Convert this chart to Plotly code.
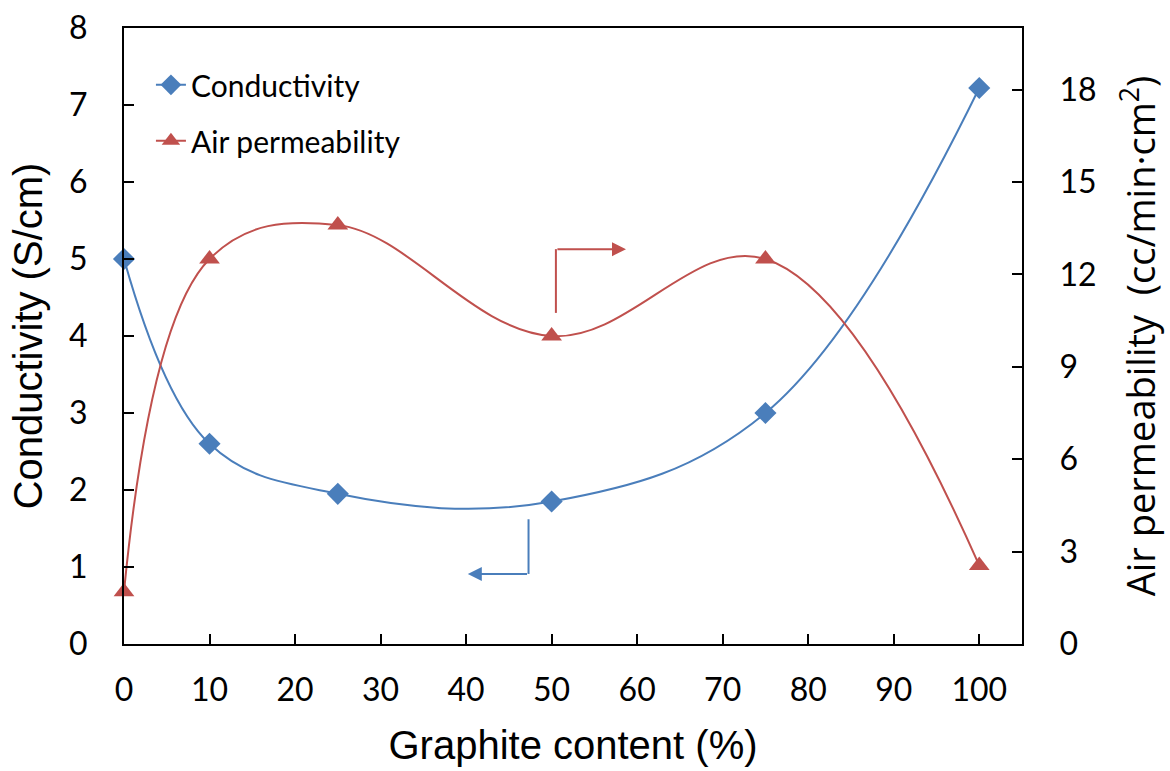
import plotly.graph_objects as go

# Graphite content (%) and measured properties
graphite = [0, 10, 25, 50, 75, 100]
conductivity = [5.0, 2.6, 1.95, 1.85, 3.0, 7.22]        # S/cm
air_permeability = [1.7, 12.5, 13.6, 10.0, 12.5, 2.55]  # cc/min·cm²

x_ticks = [0, 10, 20, 30, 40, 50, 60, 70, 80, 90, 100]
left_ticks = [0, 1, 2, 3, 4, 5, 6, 7, 8]
right_ticks = [0, 3, 6, 9, 12, 15, 18]

BLUE = "#4a7ebb"
RED = "#c0504d"
tick_font = dict(family="Lato", size=32, color="black")

fig = go.Figure()
fig.add_trace(go.Scatter(
    x=graphite, y=conductivity, name="Conductivity", legendgroup="c", cliponaxis=False,
    mode="lines+markers", line=dict(color=BLUE, width=2, shape="spline", smoothing=1.1),
    marker=dict(symbol="diamond", size=17, color=BLUE),
))
fig.add_trace(go.Scatter(
    x=graphite, y=air_permeability, name="Air permeability", yaxis="y2", legendgroup="a",
    cliponaxis=False,
    mode="lines+markers", line=dict(color=RED, width=2, shape="spline", smoothing=1.1),
    marker=dict(symbol="triangle-up", size=18, color=RED),
))

axis_common = dict(
    showline=True, linecolor="black", linewidth=2, showgrid=False, zeroline=False,
    ticks="inside", ticklen=10, tickwidth=2, tickcolor="black", tickfont=tick_font,
    automargin=False,
)

fig.update_layout(
    width=1170, height=771,
    margin=dict(l=124, r=148, t=28, b=127),
    paper_bgcolor="white", plot_bgcolor="white",
    showlegend=True,
    legend=dict(x=0.03, y=0.95, xanchor="left", yanchor="top",
                font=dict(family="Lato", size=30, color="black"),
                bgcolor="rgba(0,0,0,0)", traceorder="grouped", tracegroupgap=14,
                itemwidth=30),
    xaxis=dict(range=[0, 105], tickvals=x_ticks, mirror=True, ticklabelstandoff=17,
               title=dict(text="Graphite content (%)", standoff=24,
                          font=dict(family="Liberation Sans, Arial", size=40, color="black")),
               **axis_common),
    yaxis=dict(range=[0, 8], tickvals=left_ticks, ticklabelstandoff=28,
               title=dict(text="Conductivity (S/cm)", standoff=14,
                          font=dict(family="Liberation Sans, Arial", size=40, color="black")),
               **axis_common),
    yaxis2=dict(range=[0, 20], tickvals=right_ticks, overlaying="y", side="right",
                ticklabelstandoff=29,
                title=dict(text="Air permeability  (cc/min·cm<sup>2</sup>)", standoff=33,
                           font=dict(family="Open Sans", size=38, color="black")),
                **axis_common),
)

# Arrow pointing the red curve to the right-hand axis
fig.add_shape(type="line", xref="x", yref="y2", x0=50.5, y0=10.75, x1=50.5, y1=12.82,
              line=dict(color=RED, width=2))
fig.add_annotation(xref="x", yref="y2", axref="x", ayref="y2",
                   x=58.7, y=12.82, ax=50.5, ay=12.82, text="",
                   showarrow=True, arrowhead=2, arrowsize=1.4, arrowwidth=2, arrowcolor=RED)

# Arrow pointing the blue curve to the left-hand axis
fig.add_shape(type="line", xref="x", yref="y", x0=47.3, y0=1.62, x1=47.3, y1=0.91,
              line=dict(color=BLUE, width=2))
fig.add_annotation(xref="x", yref="y", axref="x", ayref="y",
                   x=40.2, y=0.91, ax=47.3, ay=0.91, text="",
                   showarrow=True, arrowhead=2, arrowsize=1.4, arrowwidth=2, arrowcolor=BLUE)

fig.write_html("out.html")
